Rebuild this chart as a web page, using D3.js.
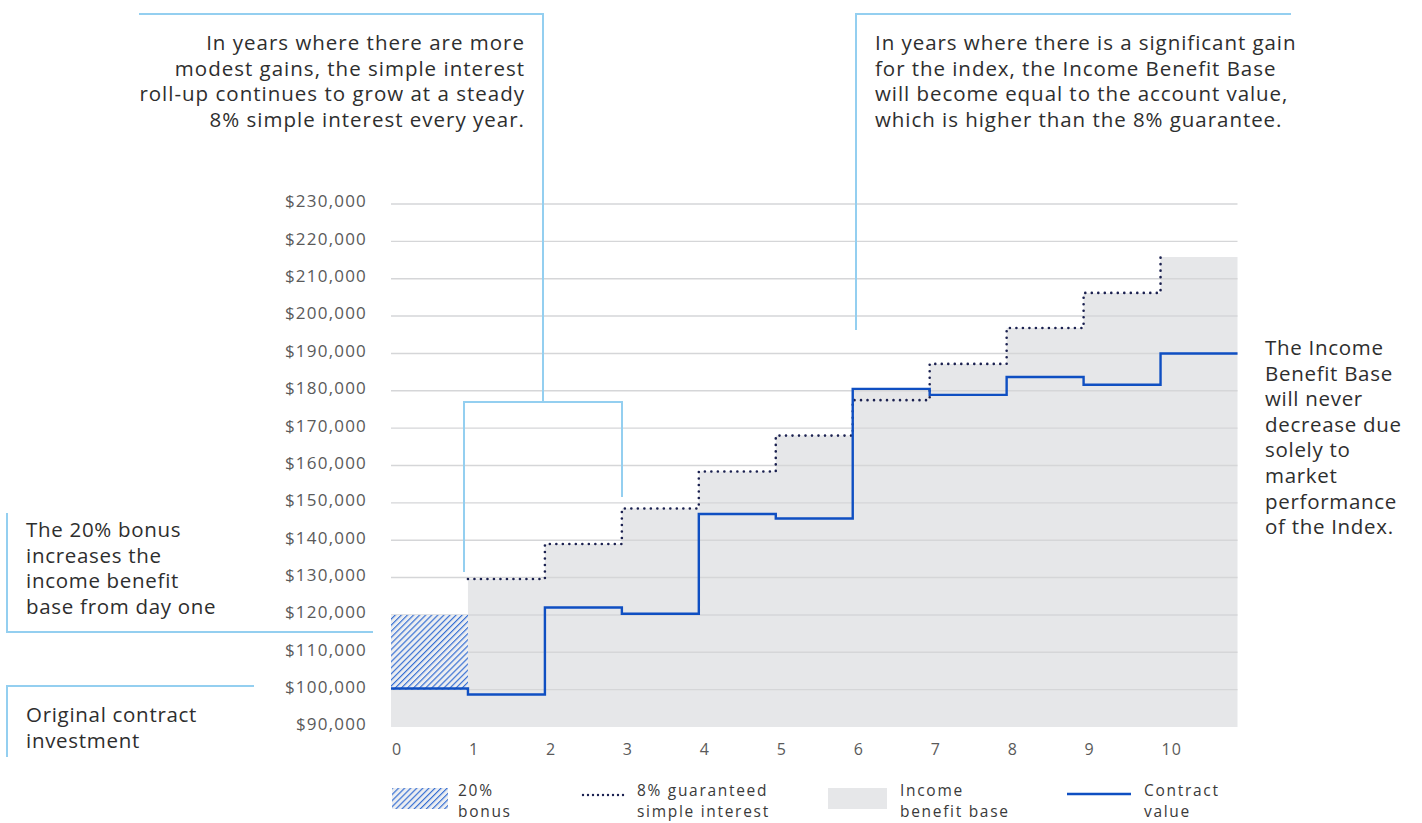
<!DOCTYPE html>
<html>
<head>
<meta charset="utf-8">
<script src="https://cdn.jsdelivr.net/npm/d3@7/dist/d3.min.js"></script>
<style>
  html, body { margin: 0; padding: 0; background: #fff; }
  svg { display: block; font-family: "Open Sans", sans-serif; }
</style>
</head>
<body>
<script>
// ---------- data ----------
const years = [0, 1, 2, 3, 4, 5, 6, 7, 8, 9, 10];
const yTicks = [90000, 100000, 110000, 120000, 130000, 140000, 150000, 160000, 170000, 180000, 190000, 200000, 210000, 220000, 230000];
// contract value for each year segment (year i to i+1)
const contractValue = [100300, 98700, 122000, 120300, 147000, 145800, 180500, 178900, 183700, 181600, 190000];
// 8% guaranteed simple interest, starting at year 1
const guaranteedYears = [1, 2, 3, 4, 5, 6, 7, 8, 9, 10];
const guaranteedValue = [129600, 139000, 148500, 158400, 168000, 177500, 187200, 196800, 206200, 215800];
// income benefit base for each year segment
const incomeBase = [100000, 129600, 139000, 148500, 158400, 168000, 180500, 187200, 196800, 206200, 215800];
// 20% bonus block
const bonusYears = [0, 1];
const bonusRange = [100000, 120000];

const legendLabels = [["20%", "bonus"], ["8% guaranteed", "simple interest"], ["Income", "benefit base"], ["Contract", "value"]];

const noteTopLeft = ["In years where there are more", "modest gains, the simple interest", "roll-up continues to grow at a steady", "8% simple interest every year."];
const noteTopRight = ["In years where there is a significant gain", "for the index, the Income Benefit Base", "will become equal to the account value,", "which is higher than the 8% guarantee."];
const noteBonus = ["The 20% bonus", "increases the", "income benefit", "base from day one"];
const noteOriginal = ["Original contract", "investment"];
const noteRight = ["The Income", "Benefit Base", "will never", "decrease due", "solely to", "market", "performance", "of the Index."];

// ---------- layout ----------
const W = 1422, H = 823;
const x = d3.scaleLinear().domain([0, 11]).range([391, 1237.5]);
const y = d3.scaleLinear().domain([90000, 230000]).range([727, 204]);

const C = {
  grid: "#d5d6d8",
  area: "#e6e7e9",
  contract: "#0f4fc2",
  dotted: "#1b2150",
  callout: "#94cff0",
  axisText: "#5a5a5a",
  noteText: "#2e2e2e",
  hatch: "#2a66d2",
  hatchBg: "#eceef1"
};

const svg = d3.select("body").append("svg").attr("width", W).attr("height", H);

const defs = svg.append("defs");
const pat = defs.append("pattern")
  .attr("id", "hatch").attr("patternUnits", "userSpaceOnUse")
  .attr("width", 4.3).attr("height", 4.3)
  .attr("patternTransform", "rotate(45)");
pat.append("rect").attr("width", 4.3).attr("height", 4.3).attr("fill", C.hatchBg);
pat.append("line").attr("x1", 0.6).attr("y1", 0).attr("x2", 0.6).attr("y2", 4.3)
  .attr("stroke", C.hatch).attr("stroke-width", 1.1);

// income benefit base area
const areaPts = incomeBase.map((v, i) => [i, v]).concat([[11, incomeBase[incomeBase.length - 1]]]);
svg.append("path")
  .datum(areaPts)
  .attr("fill", C.area)
  .attr("d", d3.area().x(d => x(d[0])).y0(y(90000)).y1(d => y(d[1])).curve(d3.curveStepAfter));

// gridlines
svg.append("g").selectAll("line")
  .data(yTicks.filter(t => t > 90000))
  .join("line")
  .attr("x1", x(0)).attr("x2", x(11))
  .attr("y1", d => y(d)).attr("y2", d => y(d))
  .attr("stroke", C.grid).attr("stroke-width", 1.4);

// bonus hatch
svg.append("rect")
  .attr("x", x(bonusYears[0])).attr("width", x(bonusYears[1]) - x(bonusYears[0]))
  .attr("y", y(bonusRange[1])).attr("height", y(bonusRange[0]) - y(bonusRange[1]))
  .attr("fill", "url(#hatch)");

// guaranteed dotted
svg.append("path")
  .datum(guaranteedYears.map((yr, i) => [yr, guaranteedValue[i]]))
  .attr("fill", "none")
  .attr("stroke", C.dotted).attr("stroke-width", 2.6)
  .attr("stroke-linecap", "round").attr("stroke-dasharray", "0,6.5")
  .attr("d", d3.line().x(d => x(d[0])).y(d => y(d[1])).curve(d3.curveStepAfter));

// contract value
const cPts = contractValue.map((v, i) => [i, v]).concat([[11, contractValue[contractValue.length - 1]]]);
svg.append("path")
  .datum(cPts)
  .attr("fill", "none")
  .attr("stroke", C.contract).attr("stroke-width", 2.4)
  .attr("d", d3.line().x(d => x(d[0])).y(d => y(d[1])).curve(d3.curveStepAfter));

// axes
const yAxis = svg.append("g").attr("transform", `translate(${x(0)},0)`)
  .call(d3.axisLeft(y).tickValues(yTicks).tickSize(0).tickPadding(24).tickFormat(d => "$" + d3.format(",")(d)));
yAxis.select(".domain").remove();
yAxis.selectAll("text")
  .attr("fill", C.axisText).attr("font-size", 17).attr("letter-spacing", "1.2px")
  .attr("font-family", "Open Sans").attr("dy", "0.17em");

const xAxis = svg.append("g").attr("transform", `translate(0,${y(90000)})`)
  .call(d3.axisBottom(x).tickValues(years).tickSize(0).tickFormat(d3.format("d")));
xAxis.select(".domain").remove();
xAxis.selectAll("text")
  .attr("fill", C.axisText).attr("font-size", 16).attr("letter-spacing", "1px")
  .attr("font-family", "Open Sans")
  .attr("text-anchor", "start").attr("x", 0.5).attr("y", 28).attr("dy", 0);

// callout lines
const call = svg.append("g").attr("fill", "none").attr("stroke", C.callout).attr("stroke-width", 2);
call.append("path").attr("d", `M139,14 H543 V402 M464,572 V402 H622 V497`);
call.append("path").attr("d", `M1291,14 H856 V330`);
call.append("path").attr("d", `M7,513 V632 H373`);
call.append("path").attr("d", `M254,686 H7 V757`);

// notes
function note(lines, xPos, y0, anchor, size, lh, ls) {
  const t = svg.append("text")
    .attr("font-size", size).attr("fill", C.noteText)
    .attr("letter-spacing", ls + "px").attr("text-anchor", anchor);
  lines.forEach((l, i) => t.append("tspan").attr("x", xPos).attr("y", y0 + i * lh).text(l));
}
note(noteTopLeft, 525, 50, "end", 20.5, 25.7, 1.0);
note(noteTopRight, 875, 50, "start", 20.5, 25.7, 0.95);
note(noteBonus, 26, 537, "start", 20.5, 25.5, 0.7);
note(noteOriginal, 26, 722, "start", 20.5, 25.5, 0.7);
note(noteRight, 1265, 355, "start", 20.5, 25.6, 0.7);

// legend
const lg = svg.append("g");
lg.append("rect").attr("x", 392).attr("y", 788).attr("width", 56).attr("height", 21).attr("fill", "url(#hatch)");
lg.append("line").attr("x1", 583).attr("x2", 627).attr("y1", 795).attr("y2", 795)
  .attr("stroke", C.dotted).attr("stroke-width", 2.4).attr("stroke-linecap", "round").attr("stroke-dasharray", "0,5");
lg.append("rect").attr("x", 828).attr("y", 788).attr("width", 59).attr("height", 21).attr("fill", C.area);
lg.append("line").attr("x1", 1067).attr("x2", 1131).attr("y1", 794).attr("y2", 794)
  .attr("stroke", C.contract).attr("stroke-width", 2.4);
const lgX = [458, 637, 900, 1144];
legendLabels.forEach((lines, k) => {
  const t = lg.append("text").attr("font-size", 15.5).attr("fill", "#3a3a3a").attr("letter-spacing", "1.7px");
  lines.forEach((l, i) => t.append("tspan").attr("x", lgX[k]).attr("y", 796 + i * 21.2).text(l));
});
</script>
</body>
</html>
